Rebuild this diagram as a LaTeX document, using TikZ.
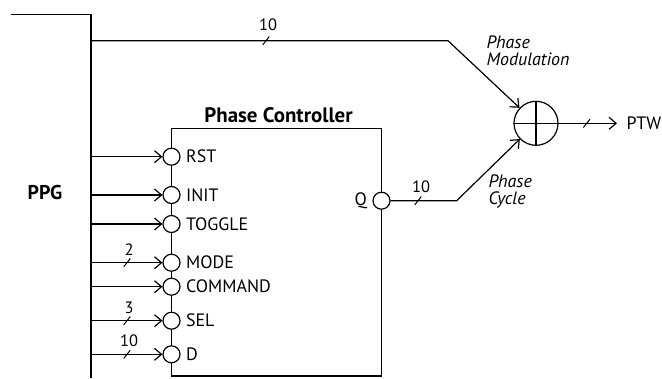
\documentclass[tikz,border=0pt]{standalone}
\usepackage{fontspec}
\setmainfont{PT Sans}
\usetikzlibrary{arrows.meta}
\begin{document}
\begin{tikzpicture}[x=1bp,y=-1bp,line width=1.2bp,
  >={Straight Barb[length=7bp,width=12bp]},
  pinc/.style={circle,draw,fill=white,minimum size=17bp,inner sep=0pt},
  lbl/.style={font=\fontsize{18}{20}\selectfont,inner sep=0pt},
  itl/.style={font=\itshape\fontsize{18}{20}\selectfont,inner sep=0pt,anchor=base west},
  num/.style={font=\fontsize{16.5}{18}\selectfont,inner sep=0pt,anchor=base},
  busslash/.style={line width=1bp}]
\useasboundingbox (0,0) rectangle (662,378);
% PPG bus
\coordinate (t0) at (11,14.3);
\coordinate (t1) at (91,14.3);
\coordinate (tb) at (91,378);
\draw (t0) -- (t1) -- (tb);
\node[font=\bfseries\fontsize{20}{22}\selectfont,inner sep=0pt] (ppg) at (45,193) {PPG};
% Phase controller block
\coordinate (blkA) at (171.5,128.3);
\coordinate (blkB) at (381.5,376);
\draw (blkA) rectangle (blkB);
\node[font=\bfseries\fontsize{21}{24}\selectfont,inner sep=0pt] (title) at (278.5,115) {Phase Controller};
% inputs
\foreach \n/\y/\t in {rst/156.7/RST,init/195/INIT,toggle/224/TOGGLE,mode/262.7/MODE,command/286.7/COMMAND,sel/320.7/SEL,d/354.3/D}{
  \coordinate (\n b) at (91,\y);
  \node[pinc] (\n) at (171.5,\y) {};
  \node[lbl,anchor=west] (\n l) at (185.5,\y) {\t};
  \draw[->] (\n b) -- (\n);
}
% bus widths on inputs
\foreach \n/\v/\y in {mode/2/262.7,sel/3/320.7,d/10/354.3}{
  \coordinate (\n s) at (127,\y);
  \draw[busslash] ([shift={(-3.3,4.2)}]\n s) -- ([shift={(3.3,-4.2)}]\n s);
  \node[num] (\n n) at (129,\y-7.5) {\v};
}
% sum
\node[circle,draw,minimum size=44bp,inner sep=0pt] (sum) at (536,123.3) {};
\draw (sum.north) -- (sum.south) (sum.west) -- (sum.east);
% phase modulation path
\coordinate (pmA) at (91,40.7);
\coordinate (pmB) at (448,40.7);
\draw[->] (pmA) -- (pmB) -- (sum);
\coordinate (pms) at (266,40.7);
\draw[busslash] ([shift={(-3.3,4.2)}]pms) -- ([shift={(3.3,-4.2)}]pms);
\node[num] (pmn) at (268,30.7) {10};
\node[itl] (pm1) at (486,48.3) {Phase};
\node[itl] (pm2) at (486,65.7) {Modulation};
% Q output
\node[pinc] (q) at (381.5,200.7) {};
\node[lbl,anchor=east] (ql) at (367.5,200.7) {Q};
\coordinate (qB) at (456.7,200.7);
\draw[->] (q) -- (qB) -- (sum);
\coordinate (qs) at (418,200.7);
\draw[busslash] ([shift={(-3.3,4.2)}]qs) -- ([shift={(3.3,-4.2)}]qs);
\node[num] (qn) at (421,192.3) {10};
\node[itl] (pc1) at (488,187.3) {Phase};
\node[itl] (pc2) at (488,204) {Cycle};
% PTW
\node[lbl,anchor=west] (ptw) at (626,123.3) {PTW};
\draw[->] (sum) -- ([xshift=-9bp]ptw.west);
\coordinate (ptws) at (586.7,123.3);
\draw[busslash] ([shift={(-3.3,4.2)}]ptws) -- ([shift={(3.3,-4.2)}]ptws);
\end{tikzpicture}
\end{document}
